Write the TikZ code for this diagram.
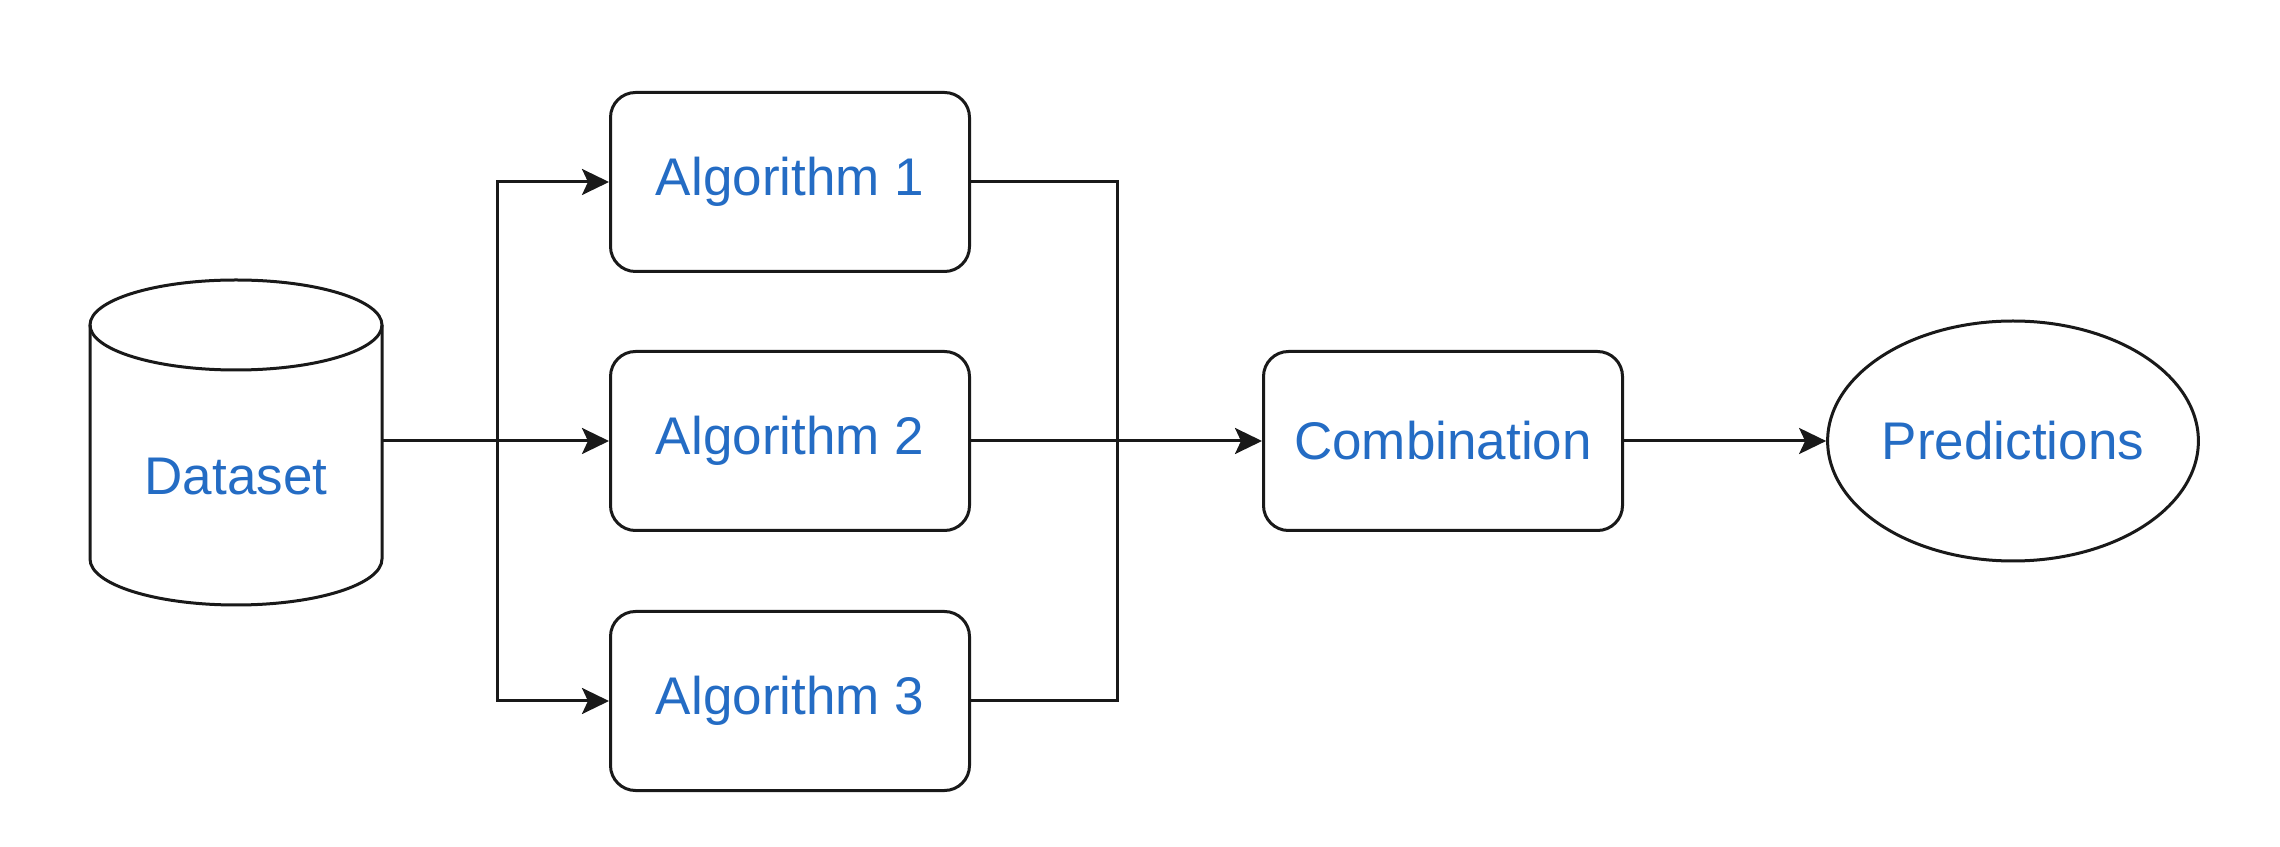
\documentclass[tikz,border=0pt]{standalone}
\usepackage{fontspec}
\setmainfont{Liberation Sans}
\usetikzlibrary{arrows.meta,shapes.geometric}
\definecolor{txtblue}{RGB}{36,108,196}
\tikzset{
  line/.style={line width=3pt, draw=black!90},
  arr/.style={line, -{Stealth[length=27pt,width=26pt,inset=6pt]}},
  lbl/.style={text=txtblue, font=\fontsize{53}{60}\selectfont, inner sep=0pt},
  box/.style={lbl, line, rounded corners=25pt, minimum width=359pt, minimum height=179pt},
  oval/.style={lbl, line, ellipse, minimum width=360pt, minimum height=240pt}
}
\begin{document}
\begin{tikzpicture}[x=1pt,y=1pt]
\useasboundingbox[fill=white] (0,0) rectangle (2280,846);
% cylinder
\draw[line] (236,521) ellipse [x radius=146, y radius=45];
\draw[line] (90,521) -- (90,287) arc[start angle=180, end angle=360, x radius=146, y radius=46] -- (382,521);
\node[lbl] (ds) at (236,369) {Dataset};
\coordinate (dsR) at (382,405);
% algorithm boxes
\node[box] (a1) at (790,664) {Algorithm 1};
\node[box] (a2) at (790,405) {Algorithm 2};
\node[box] (a3) at (790,145) {Algorithm 3};
\node[box] (c) at (1443,405) {Combination};
\node[oval] (p) at (2013,405) {Predictions};
% connectors
\coordinate (jL) at (497,405);
\coordinate (jR) at (1117,405);
\draw[arr] (dsR) -- (a2.west);
\draw[arr] (jL) |- (a1.west);
\draw[arr] (jL) |- (a3.west);
\draw[line] (a1.east) -| (jR);
\draw[line] (a3.east) -| (jR);
\draw[arr] (a2.east) -- (c.west);
\draw[arr] (c.east) -- (p.west);
\end{tikzpicture}
\end{document}
